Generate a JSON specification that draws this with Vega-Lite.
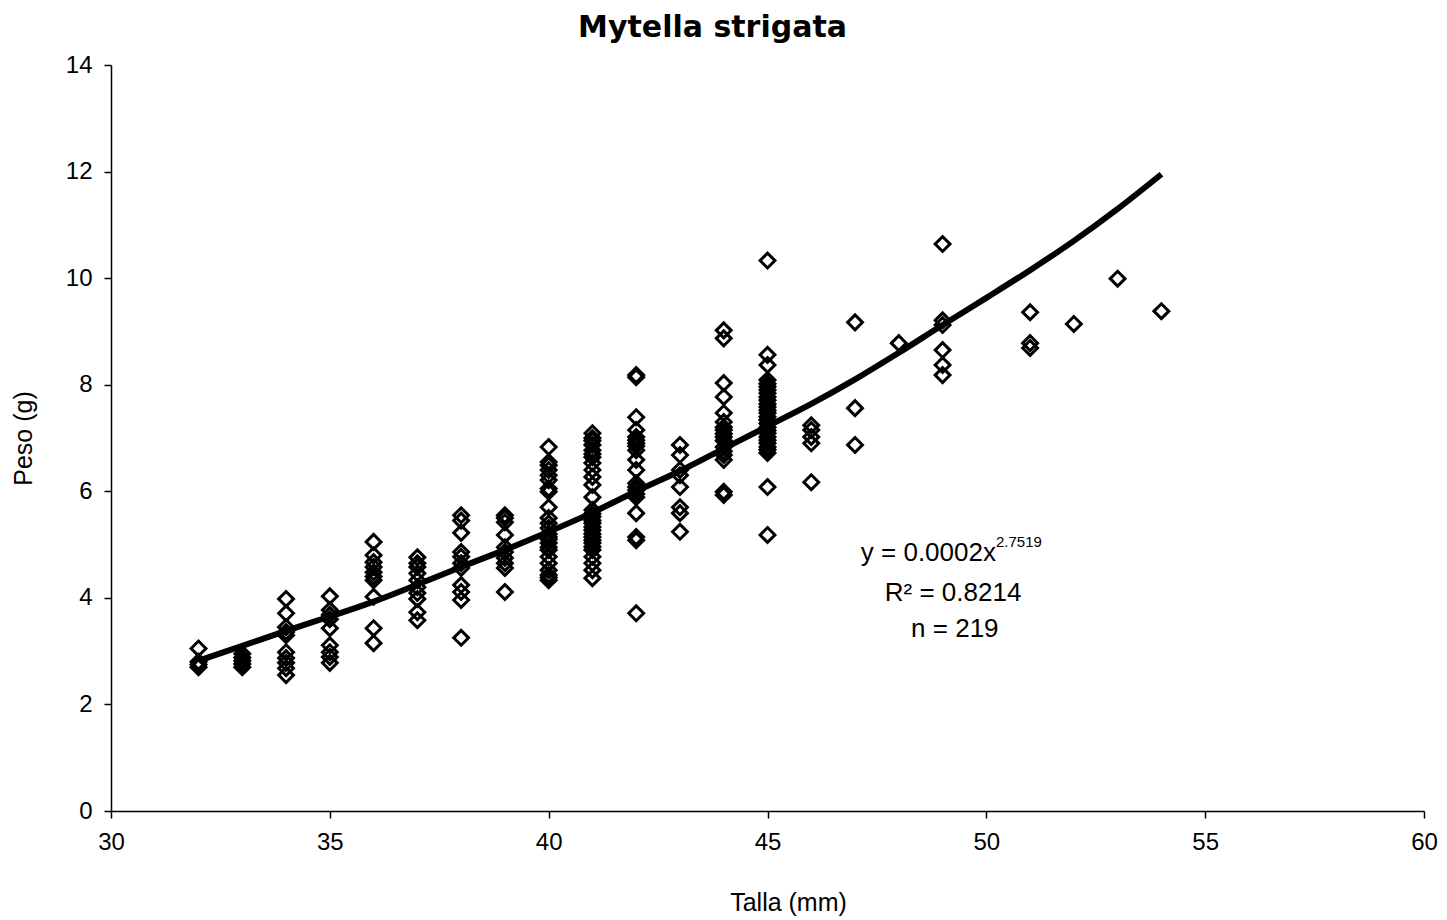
{
  "$schema": "https://vega.github.io/schema/vega-lite/v6.json",
  "width": 1313,
  "height": 746,
  "autosize": "none",
  "padding": {"left": 111, "top": 65, "right": 23, "bottom": 109},
  "background": "white",
  "config": {
    "font": "Liberation Sans",
    "view": {"stroke": null},
    "axis": {"grid": false, "domainColor": "black", "tickColor": "black", "labelColor": "black", "titleColor": "black", "domainWidth": 1.5, "tickWidth": 1.5, "labelFont": "Liberation Sans", "titleFont": "Liberation Sans", "labelFontSize": 24, "titleFontSize": 25, "titleFontWeight": "normal", "labelFlush": false, "labelOverlap": false}
  },
  "title": {"text": "Mytella  strigata", "font": "DejaVu Sans", "fontSize": 30, "fontWeight": "bold", "color": "black", "anchor": "middle", "dx": -55, "offset": 10},
  "datasets": {
    "points": [
      {"talla": 32, "peso": 3.05}, {"talla": 32, "peso": 2.8}, {"talla": 32, "peso": 2.75}, {"talla": 32, "peso": 2.7},
      {"talla": 33, "peso": 2.95}, {"talla": 33, "peso": 2.88}, {"talla": 33, "peso": 2.82}, {"talla": 33, "peso": 2.76}, {"talla": 33, "peso": 2.7},
      {"talla": 34, "peso": 3.98}, {"talla": 34, "peso": 3.71}, {"talla": 34, "peso": 3.45}, {"talla": 34, "peso": 3.36}, {"talla": 34, "peso": 3.3}, {"talla": 34, "peso": 2.98}, {"talla": 34, "peso": 2.87}, {"talla": 34, "peso": 2.78}, {"talla": 34, "peso": 2.68}, {"talla": 34, "peso": 2.55},
      {"talla": 35, "peso": 4.03}, {"talla": 35, "peso": 3.77}, {"talla": 35, "peso": 3.68}, {"talla": 35, "peso": 3.6}, {"talla": 35, "peso": 3.43}, {"talla": 35, "peso": 3.11}, {"talla": 35, "peso": 2.98}, {"talla": 35, "peso": 2.89}, {"talla": 35, "peso": 2.78},
      {"talla": 36, "peso": 5.05}, {"talla": 36, "peso": 4.8}, {"talla": 36, "peso": 4.67}, {"talla": 36, "peso": 4.58}, {"talla": 36, "peso": 4.48}, {"talla": 36, "peso": 4.4}, {"talla": 36, "peso": 4.33}, {"talla": 36, "peso": 4.02}, {"talla": 36, "peso": 3.43}, {"talla": 36, "peso": 3.15},
      {"talla": 37, "peso": 4.76}, {"talla": 37, "peso": 4.65}, {"talla": 37, "peso": 4.58}, {"talla": 37, "peso": 4.46}, {"talla": 37, "peso": 4.33}, {"talla": 37, "peso": 4.2}, {"talla": 37, "peso": 4.09}, {"talla": 37, "peso": 3.98}, {"talla": 37, "peso": 3.73}, {"talla": 37, "peso": 3.58},
      {"talla": 38, "peso": 5.55}, {"talla": 38, "peso": 5.45}, {"talla": 38, "peso": 5.22}, {"talla": 38, "peso": 4.86}, {"talla": 38, "peso": 4.77}, {"talla": 38, "peso": 4.65}, {"talla": 38, "peso": 4.56}, {"talla": 38, "peso": 4.24}, {"talla": 38, "peso": 4.11}, {"talla": 38, "peso": 3.96}, {"talla": 38, "peso": 3.25},
      {"talla": 39, "peso": 5.55}, {"talla": 39, "peso": 5.5}, {"talla": 39, "peso": 5.42}, {"talla": 39, "peso": 5.18}, {"talla": 39, "peso": 4.95}, {"talla": 39, "peso": 4.86}, {"talla": 39, "peso": 4.75}, {"talla": 39, "peso": 4.65}, {"talla": 39, "peso": 4.56}, {"talla": 39, "peso": 4.11},
      {"talla": 40, "peso": 6.83}, {"talla": 40, "peso": 6.55}, {"talla": 40, "peso": 6.49}, {"talla": 40, "peso": 6.4}, {"talla": 40, "peso": 6.3}, {"talla": 40, "peso": 6.21}, {"talla": 40, "peso": 6.05}, {"talla": 40, "peso": 5.99}, {"talla": 40, "peso": 5.7}, {"talla": 40, "peso": 5.5}, {"talla": 40, "peso": 5.4}, {"talla": 40, "peso": 5.31}, {"talla": 40, "peso": 5.2}, {"talla": 40, "peso": 5.14}, {"talla": 40, "peso": 5.1}, {"talla": 40, "peso": 5.03}, {"talla": 40, "peso": 4.95}, {"talla": 40, "peso": 4.9}, {"talla": 40, "peso": 4.77}, {"talla": 40, "peso": 4.65}, {"talla": 40, "peso": 4.52}, {"talla": 40, "peso": 4.43}, {"talla": 40, "peso": 4.38}, {"talla": 40, "peso": 4.33},
      {"talla": 41, "peso": 7.09}, {"talla": 41, "peso": 7.0}, {"talla": 41, "peso": 6.95}, {"talla": 41, "peso": 6.87}, {"talla": 41, "peso": 6.77}, {"talla": 41, "peso": 6.7}, {"talla": 41, "peso": 6.64}, {"talla": 41, "peso": 6.53}, {"talla": 41, "peso": 6.4}, {"talla": 41, "peso": 6.27}, {"talla": 41, "peso": 6.12}, {"talla": 41, "peso": 5.89}, {"talla": 41, "peso": 5.65}, {"talla": 41, "peso": 5.58}, {"talla": 41, "peso": 5.52}, {"talla": 41, "peso": 5.45}, {"talla": 41, "peso": 5.4}, {"talla": 41, "peso": 5.33}, {"talla": 41, "peso": 5.27}, {"talla": 41, "peso": 5.2}, {"talla": 41, "peso": 5.14}, {"talla": 41, "peso": 5.08}, {"talla": 41, "peso": 5.03}, {"talla": 41, "peso": 4.96}, {"talla": 41, "peso": 4.9}, {"talla": 41, "peso": 4.77}, {"talla": 41, "peso": 4.65}, {"talla": 41, "peso": 4.52}, {"talla": 41, "peso": 4.37},
      {"talla": 42, "peso": 8.18}, {"talla": 42, "peso": 8.14}, {"talla": 42, "peso": 7.39}, {"talla": 42, "peso": 7.15}, {"talla": 42, "peso": 7.02}, {"talla": 42, "peso": 6.96}, {"talla": 42, "peso": 6.9}, {"talla": 42, "peso": 6.85}, {"talla": 42, "peso": 6.77}, {"talla": 42, "peso": 6.59}, {"talla": 42, "peso": 6.4}, {"talla": 42, "peso": 6.15}, {"talla": 42, "peso": 6.08}, {"talla": 42, "peso": 6.02}, {"talla": 42, "peso": 5.95}, {"talla": 42, "peso": 5.89}, {"talla": 42, "peso": 5.59}, {"talla": 42, "peso": 5.14}, {"talla": 42, "peso": 5.08}, {"talla": 42, "peso": 3.71},
      {"talla": 43, "peso": 6.87}, {"talla": 43, "peso": 6.68}, {"talla": 43, "peso": 6.4}, {"talla": 43, "peso": 6.3}, {"talla": 43, "peso": 6.08}, {"talla": 43, "peso": 5.7}, {"talla": 43, "peso": 5.59}, {"talla": 43, "peso": 5.24},
      {"talla": 44, "peso": 9.02}, {"talla": 44, "peso": 8.87}, {"talla": 44, "peso": 8.03}, {"talla": 44, "peso": 7.77}, {"talla": 44, "peso": 7.47}, {"talla": 44, "peso": 7.3}, {"talla": 44, "peso": 7.2}, {"talla": 44, "peso": 7.15}, {"talla": 44, "peso": 7.08}, {"talla": 44, "peso": 7.02}, {"talla": 44, "peso": 6.95}, {"talla": 44, "peso": 6.83}, {"talla": 44, "peso": 6.75}, {"talla": 44, "peso": 6.68}, {"talla": 44, "peso": 6.59}, {"talla": 44, "peso": 5.99}, {"talla": 44, "peso": 5.93},
      {"talla": 45, "peso": 10.33}, {"talla": 45, "peso": 8.56}, {"talla": 45, "peso": 8.37}, {"talla": 45, "peso": 8.09}, {"talla": 45, "peso": 8.02}, {"talla": 45, "peso": 7.96}, {"talla": 45, "peso": 7.9}, {"talla": 45, "peso": 7.84}, {"talla": 45, "peso": 7.77}, {"talla": 45, "peso": 7.71}, {"talla": 45, "peso": 7.64}, {"talla": 45, "peso": 7.58}, {"talla": 45, "peso": 7.52}, {"talla": 45, "peso": 7.47}, {"talla": 45, "peso": 7.4}, {"talla": 45, "peso": 7.34}, {"talla": 45, "peso": 7.27}, {"talla": 45, "peso": 7.2}, {"talla": 45, "peso": 7.14}, {"talla": 45, "peso": 7.09}, {"talla": 45, "peso": 7.02}, {"talla": 45, "peso": 6.96}, {"talla": 45, "peso": 6.9}, {"talla": 45, "peso": 6.83}, {"talla": 45, "peso": 6.78}, {"talla": 45, "peso": 6.72}, {"talla": 45, "peso": 6.08}, {"talla": 45, "peso": 5.18},
      {"talla": 46, "peso": 7.24}, {"talla": 46, "peso": 7.15}, {"talla": 46, "peso": 7.02}, {"talla": 46, "peso": 6.9}, {"talla": 46, "peso": 6.17},
      {"talla": 47, "peso": 9.17}, {"talla": 47, "peso": 7.56}, {"talla": 47, "peso": 6.87},
      {"talla": 48, "peso": 8.78},
      {"talla": 49, "peso": 10.64}, {"talla": 49, "peso": 9.21}, {"talla": 49, "peso": 9.12}, {"talla": 49, "peso": 8.65}, {"talla": 49, "peso": 8.37}, {"talla": 49, "peso": 8.18},
      {"talla": 51, "peso": 9.36}, {"talla": 51, "peso": 8.78}, {"talla": 51, "peso": 8.69},
      {"talla": 52, "peso": 9.14},
      {"talla": 53, "peso": 9.99},
      {"talla": 54, "peso": 9.38}
    ],
    "curve": [
      {"talla": 32, "peso": 2.82}, {"talla": 33, "peso": 3.1}, {"talla": 34, "peso": 3.38}, {"talla": 35, "peso": 3.65}, {"talla": 36, "peso": 3.93}, {"talla": 37, "peso": 4.25}, {"talla": 38, "peso": 4.58}, {"talla": 39, "peso": 4.9}, {"talla": 40, "peso": 5.24}, {"talla": 41, "peso": 5.6}, {"talla": 42, "peso": 6.0}, {"talla": 43, "peso": 6.38}, {"talla": 44, "peso": 6.8}, {"talla": 45, "peso": 7.22}, {"talla": 46, "peso": 7.64}, {"talla": 47, "peso": 8.1}, {"talla": 48, "peso": 8.6}, {"talla": 49, "peso": 9.12}, {"talla": 50, "peso": 9.63}, {"talla": 51, "peso": 10.15}, {"talla": 52, "peso": 10.7}, {"talla": 53, "peso": 11.3}, {"talla": 54, "peso": 11.95}
    ],
    "eqMain": [{"talla": 50.22, "peso": 4.84, "label": "y = 0.0002x"}],
    "eqSup": [{"talla": 50.22, "peso": 5.05, "label": "2.7519"}],
    "eqCenter": [
      {"talla": 49.24, "peso": 4.09, "label": "R² = 0.8214"},
      {"talla": 49.28, "peso": 3.41, "label": "n = 219"}
    ]
  },
  "encoding": {
    "x": {"field": "talla", "type": "quantitative", "scale": {"domain": [30, 60], "nice": false, "zero": false},
      "axis": {"title": "Talla (mm)", "values": [30, 35, 40, 45, 50, 55, 60], "tickSize": 7, "labelPadding": 12, "titleX": 677, "titleY": 91, "titleBaseline": "middle", "titleAnchor": null}},
    "y": {"field": "peso", "type": "quantitative", "scale": {"domain": [0, 14], "nice": false},
      "axis": {"title": "Peso (g)", "values": [0, 2, 4, 6, 8, 10, 12, 14], "tickSize": 7, "labelPadding": 12, "titleAngle": 270, "titleX": -88, "titleY": 373, "titleBaseline": "middle", "titleAlign": "center"}}
  },
  "layer": [
    {"data": {"name": "points"}, "mark": {"type": "point", "shape": "diamond", "size": 220, "filled": false, "stroke": "black", "strokeWidth": 3, "opacity": 1}},
    {"data": {"name": "curve"}, "mark": {"type": "line", "color": "black", "strokeWidth": 6, "interpolate": "monotone"}},
    {"data": {"name": "eqMain"}, "mark": {"type": "text", "align": "right", "baseline": "middle", "fontSize": 26, "color": "black"}, "encoding": {"text": {"field": "label"}}},
    {"data": {"name": "eqSup"}, "mark": {"type": "text", "align": "left", "baseline": "middle", "fontSize": 15, "color": "black"}, "encoding": {"text": {"field": "label"}}},
    {"data": {"name": "eqCenter"}, "mark": {"type": "text", "align": "center", "baseline": "middle", "fontSize": 26, "color": "black"}, "encoding": {"text": {"field": "label"}}}
  ]
}
